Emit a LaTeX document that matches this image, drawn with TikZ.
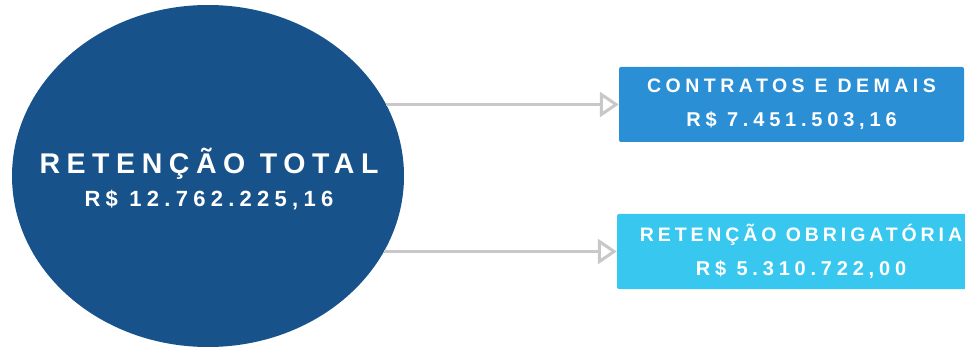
\documentclass[tikz,border=0pt]{standalone}
\usepackage{fontspec}
\setmainfont{Liberation Sans}
\newfontfamily\capsfont[LetterSpace=23]{Liberation Sans}
\newfontfamily\tightcaps[LetterSpace=20]{Liberation Sans}
\newfontfamily\numfont[LetterSpace=24]{Liberation Sans}
\usetikzlibrary{arrows.meta,shapes.geometric}
\definecolor{totalblue}{HTML}{17528A}
\definecolor{contblue}{HTML}{2B8FD6}
\definecolor{obrigblue}{HTML}{38C8EF}
\definecolor{arrowgray}{HTML}{C8C8C8}

\begin{document}
\begin{tikzpicture}[x=1pt,y=-1pt,
    part/.style={rectangle,rounded corners=2pt,text=white,align=center,
      minimum height=75pt,inner sep=0pt,font=\bfseries\fontsize{20}{34}\selectfont},
    link/.style={arrowgray,line width=3pt,
      -{Triangle[open,length=19pt,width=25pt,line width=3pt,fill=white]}}]
    \useasboundingbox (0,0) rectangle (965,347);
    % total in the ellipse
    \node[ellipse,fill=totalblue,minimum width=392pt,minimum height=342pt,
      inner sep=0pt] (total) at (208,176) {};
    \node[text=white,align=center,inner sep=0pt,
      font=\bfseries\fontsize{22}{33}\selectfont] (totaltext) at (209,179)
      {{\capsfont\fontsize{28.5}{33}\selectfont RETENÇÃO TOTAL}\\
       {\numfont R\$ 12.762.225,16}};
    % the two parts
    \node[part,fill=contblue,minimum width=345pt] (contratos) at (791.5,104.5)
      {{\capsfont\fontsize{19.5}{34}\selectfont CONTRATOS E DEMAIS}\\
       {\numfont R\$ 7.451.503,16}};
    \node[part,fill=obrigblue,minimum width=368pt] (obrigatoria) at (801,251.5)
      {{\tightcaps\fontsize{19.5}{34}\selectfont RETENÇÃO OBRIGATÓRIA}\\
       {\numfont R\$ 5.310.722,00}};
    \draw[link] (total.22 |- contratos.west) -- (contratos.west);
    \draw[link] (total.-23 |- obrigatoria.west) -- (obrigatoria.west);
\end{tikzpicture}
\end{document}
